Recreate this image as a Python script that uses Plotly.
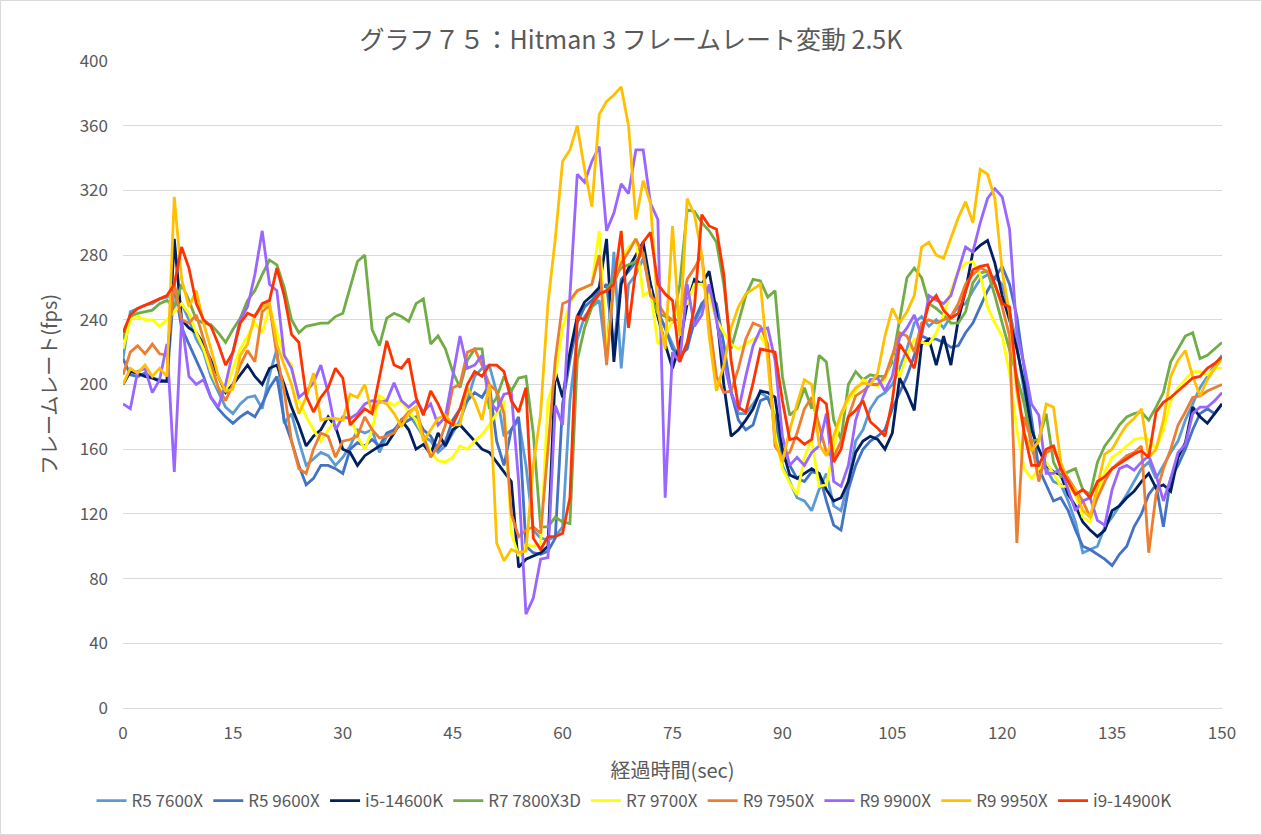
import plotly.graph_objects as go

t = list(range(0, 151))

r5_7600x = [216, 245, 247, 249, 250, 253, 254, 256, 250, 240, 228, 220, 205, 195, 186, 182,
 188, 192, 193, 185, 206, 222, 176, 182, 165, 150, 154, 158, 156, 150, 155,
 162, 172, 170, 172, 158, 168, 172, 178, 182, 175, 168, 165, 158, 162, 170,
 178, 190, 205, 210, 212, 195, 168, 172, 178, 150, 110, 105, 104, 106, 112,
 190, 228, 242, 248, 252, 215, 282, 210, 262, 268, 278, 260, 245, 235, 225,
 215, 225, 238, 248, 258, 240, 215, 195, 182, 182, 188, 195, 192, 180, 150,
 140, 130, 128, 122, 135, 145, 125, 122, 140, 165, 172, 185, 192, 195, 200,
 210, 222, 238, 242, 236, 240, 235, 242, 248, 250, 258, 265, 268, 266, 262,
 245, 225, 195, 160, 150, 148, 140, 138, 128, 115, 96, 98, 100, 112, 118,
 125, 132, 140, 148, 152, 142, 150, 158, 165, 178, 188, 198, 205, 212, 218]

r5_9600x = [216, 206, 205, 207, 204, 203, 202, 262, 235, 225, 215, 205, 192, 185, 180, 176,
 180, 183, 180, 188, 198, 205, 178, 165, 150, 138, 142, 150, 150, 148, 145,
 160, 164, 162, 166, 162, 170, 172, 175, 178, 180, 172, 168, 160, 165, 178,
 185, 190, 195, 192, 200, 165, 150, 172, 180, 100, 96, 95, 97, 105, 188,
 215, 238, 248, 252, 258, 262, 222, 265, 270, 276, 282, 262, 245, 235, 222,
 218, 222, 240, 250, 255, 250, 225, 195, 178, 172, 175, 190, 192, 180, 155,
 150, 142, 140, 146, 145, 128, 113, 110, 135, 150, 160, 165, 168, 172, 185,
 195, 205, 218, 230, 228, 228, 226, 223, 224, 232, 238, 248, 258, 266, 273,
 262, 242, 210, 180, 148, 138, 128, 130, 122, 110, 100, 98, 95, 92, 88,
 95, 100, 112, 120, 132, 138, 112, 142, 150, 160, 172, 182, 185, 182, 188]

i5_14600k = [200, 208, 207, 205, 204, 202, 202, 290, 240, 235, 232, 225, 215, 205, 195, 200,
 206, 212, 205, 200, 210, 212, 200, 186, 175, 162, 168, 172, 180, 174, 160,
 158, 150, 156, 159, 162, 163, 170, 178, 172, 160, 163, 157, 170, 162, 172,
 175, 170, 165, 160, 158, 152, 146, 140, 87, 92, 94, 96, 100, 208, 192,
 220, 242, 251, 255, 260, 290, 214, 262, 272, 280, 288, 262, 242, 225, 210,
 225, 250, 265, 262, 270, 245, 200, 168, 172, 178, 185, 196, 195, 192, 160,
 144, 142, 145, 148, 145, 135, 128, 130, 140, 158, 165, 168, 166, 160, 170,
 204, 195, 184, 225, 228, 212, 230, 212, 240, 258, 282, 286, 289, 275, 255,
 240, 222, 200, 172, 160, 150, 146, 144, 132, 125, 115, 110, 106, 110, 122,
 125, 130, 134, 140, 145, 136, 138, 134, 155, 164, 186, 180, 176, 182, 188]

r7_7800x3d = [228, 242, 244, 245, 246, 250, 252, 248, 262, 252, 240, 238, 237, 232, 226, 234,
 241, 252, 258, 268, 277, 274, 260, 240, 232, 236, 237, 238, 238, 242, 244,
 260, 276, 280, 234, 224, 241, 244, 242, 239, 250, 253, 225, 230, 222, 208,
 198, 215, 222, 222, 185, 192, 205, 196, 204, 205, 170, 112, 112, 118, 115,
 114, 215, 235, 248, 256, 258, 266, 272, 274, 276, 282, 255, 244, 242, 238,
 262, 308, 307, 300, 295, 288, 262, 222, 238, 255, 265, 264, 254, 258, 205,
 181, 185, 198, 185, 218, 214, 178, 166, 200, 208, 203, 206, 205, 205, 214,
 240, 266, 272, 266, 250, 247, 243, 238, 238, 245, 263, 269, 270, 255, 238,
 222, 205, 188, 165, 166, 182, 152, 143, 146, 148, 135, 132, 152, 162, 168,
 175, 180, 182, 183, 178, 186, 195, 214, 222, 230, 232, 216, 218, 222, 226]

r7_9700x = [222, 240, 242, 240, 240, 236, 240, 245, 250, 244, 232, 222, 208, 198, 196, 210,
 222, 230, 238, 232, 248, 232, 218, 212, 190, 180, 172, 165, 172, 178, 178,
 180, 168, 160, 172, 193, 190, 187, 190, 183, 178, 168, 158, 153, 152, 155,
 162, 160, 165, 169, 175, 182, 190, 108, 94, 101, 100, 102, 190, 205, 235,
 250, 258, 260, 262, 295, 220, 262, 278, 285, 290, 255, 258, 225, 230, 240,
 248, 250, 262, 262, 255, 240, 232, 225, 222, 225, 228, 230, 222, 170, 148,
 139, 132, 155, 166, 137, 138, 160, 181, 190, 196, 203, 201, 199, 203, 219,
 205, 218, 228, 226, 225, 232, 243, 258, 270, 275, 276, 268, 248, 238, 230,
 207, 172, 148, 142, 148, 152, 145, 137, 137, 132, 118, 115, 132, 146, 155,
 158, 162, 166, 167, 166, 160, 172, 190, 198, 203, 208, 208, 206, 210, 210]

r9_7950x = [206, 220, 224, 219, 225, 219, 218, 262, 240, 238, 243, 228, 214, 198, 190, 200,
 212, 221, 214, 245, 249, 218, 196, 165, 148, 145, 160, 170, 168, 155, 165,
 166, 168, 180, 172, 167, 168, 170, 178, 183, 186, 168, 155, 162, 175, 198,
 200, 220, 222, 212, 200, 196, 182, 120, 106, 110, 112, 108, 160, 215, 250,
 252, 258, 260, 262, 280, 212, 262, 275, 282, 290, 280, 255, 250, 243, 240,
 240, 265, 272, 280, 240, 205, 195, 196, 210, 228, 238, 236, 225, 162, 155,
 158, 170, 185, 192, 175, 158, 155, 165, 180, 193, 196, 200, 200, 205, 218,
 232, 230, 220, 238, 240, 238, 240, 242, 250, 262, 268, 272, 270, 262, 248,
 230, 102, 180, 165, 140, 158, 160, 150, 142, 135, 128, 118, 130, 140, 148,
 152, 156, 158, 162, 96, 132, 148, 160, 175, 183, 192, 193, 196, 198, 200]

r9_9900x = [188, 185, 208, 210, 195, 203, 225, 146, 240, 205, 200, 203, 192, 186, 200, 220,
 240, 248, 268, 295, 262, 258, 218, 210, 192, 196, 201, 212, 195, 172, 180,
 179, 182, 188, 190, 189, 190, 201, 190, 186, 190, 183, 188, 175, 180, 205,
 230, 210, 212, 218, 190, 184, 194, 195, 140, 58, 68, 92, 93, 187, 175,
 255, 330, 325, 338, 347, 295, 306, 324, 318, 345, 345, 312, 302, 130, 220,
 214, 262, 236, 243, 262, 240, 214, 195, 184, 205, 224, 234, 235, 215, 168,
 150, 155, 150, 158, 162, 182, 140, 137, 150, 178, 192, 203, 204, 196, 205,
 229, 235, 243, 230, 255, 252, 250, 255, 270, 285, 282, 300, 315, 321, 316,
 296, 232, 212, 188, 181, 145, 145, 148, 135, 122, 128, 130, 116, 113, 135,
 148, 150, 147, 152, 156, 144, 128, 142, 158, 163, 182, 186, 186, 190, 195]

r9_9950x = [200, 210, 207, 212, 205, 210, 205, 316, 265, 248, 258, 238, 222, 205, 196, 197,
 218, 225, 243, 248, 250, 225, 212, 200, 182, 192, 207, 178, 179, 179, 178,
 194, 192, 200, 182, 190, 188, 182, 174, 182, 186, 165, 172, 179, 181, 175,
 175, 198, 190, 178, 200, 102, 91, 98, 96, 97, 150, 182, 250, 290, 338,
 345, 360, 333, 310, 367, 375, 379, 384, 360, 302, 326, 312, 246, 222, 298,
 230, 315, 305, 280, 230, 196, 212, 235, 248, 256, 259, 262, 215, 165, 152,
 172, 188, 203, 200, 163, 156, 168, 182, 192, 198, 201, 200, 207, 230, 247,
 238, 245, 255, 285, 288, 280, 278, 290, 303, 313, 300, 333, 330, 315, 270,
 244, 195, 170, 159, 165, 188, 186, 152, 140, 135, 122, 118, 137, 157, 160,
 168, 175, 179, 185, 155, 160, 178, 205, 215, 221, 205, 193, 203, 210, 216]

i9_14900k = [232, 243, 247, 249, 251, 253, 255, 262, 285, 272, 250, 240, 236, 225, 212, 220,
 238, 244, 242, 250, 252, 272, 255, 231, 226, 193, 183, 192, 198, 210, 204,
 175, 180, 185, 182, 205, 227, 212, 210, 216, 192, 181, 196, 188, 178, 175,
 185, 200, 208, 205, 212, 212, 208, 190, 183, 198, 105, 98, 106, 106, 108,
 130, 242, 240, 250, 256, 258, 262, 295, 235, 272, 288, 294, 262, 256, 252,
 214, 226, 248, 305, 298, 296, 268, 215, 186, 183, 201, 222, 221, 220, 190,
 166, 167, 163, 166, 192, 188, 152, 160, 180, 184, 190, 177, 173, 168, 190,
 225, 218, 210, 233, 250, 255, 246, 241, 244, 258, 271, 273, 274, 262, 250,
 248, 200, 170, 150, 150, 160, 162, 148, 140, 132, 135, 130, 140, 143, 148,
 151, 154, 157, 159, 155, 183, 189, 192, 196, 200, 204, 205, 210, 213, 217]

names = ["R5 7600X", "R5 9600X", "i5-14600K", "R7 7800X3D", "R7 9700X",
         "R9 7950X", "R9 9900X", "R9 9950X", "i9-14900K"]
values = [r5_7600x, r5_9600x, i5_14600k, r7_7800x3d, r7_9700x,
          r9_7950x, r9_9900x, r9_9950x, i9_14900k]
colors = ["#5B9BD5", "#4472C4", "#002060", "#70AD47", "#FFFF00",
          "#ED7D31", "#9966FF", "#FFC000", "#FF3300"]

x_ticks = [0, 15, 30, 45, 60, 75, 90, 105, 120, 135, 150]
y_ticks = [0, 40, 80, 120, 160, 200, 240, 280, 320, 360, 400]

FONT = "Noto Sans CJK JP, Noto Sans, sans-serif"
GREY = "#595959"

fig = go.Figure()
for n, v, c in zip(names, values, colors):
    fig.add_trace(go.Scatter(x=t, y=v, mode="lines", name=n,
                             line=dict(color=c, width=2.8)))

W, H = 1262, 835
L, R, T, B = 123, 40, 61, 127
pw, ph = W - L - R, H - T - B

fig.update_layout(
    width=W, height=H,
    margin=dict(l=L, r=R, t=T, b=B),
    paper_bgcolor="white", plot_bgcolor="white",
    font=dict(family=FONT, color=GREY),
    title=dict(text="グラフ７５：Hitman 3 フレームレート変動 2.5K",
               x=0.5, xref="container", y=1 - 40 / H, yref="container",
               xanchor="center", yanchor="middle",
               font=dict(size=25, color=GREY, family=FONT)),
    xaxis=dict(range=[0, 150], tickvals=x_ticks, showgrid=False,
               showline=True, linecolor="#D9D9D9", linewidth=1,
               zeroline=False, ticks="", ticklabelstandoff=10,
               tickfont=dict(size=17, color=GREY),
               title=dict(text="経過時間(sec)", font=dict(size=20, color=GREY),
                          standoff=20)),
    yaxis=dict(range=[0, 400], tickvals=y_ticks, showgrid=True,
               gridcolor="#D9D9D9", gridwidth=1, zeroline=False,
               showline=False, ticks="", ticklabelstandoff=14,
               tickfont=dict(size=17, color=GREY),
               title=dict(text="フレームレート(fps)", font=dict(size=20, color=GREY),
                          standoff=16)),
    legend=dict(orientation="h", x=(634 - L) / pw, xanchor="center",
                y=(708 - 801) / ph, yanchor="middle",
                font=dict(size=17, color=GREY), itemwidth=30,
                bgcolor="rgba(0,0,0,0)"),
    showlegend=True,
)

fig.add_shape(type="rect", xref="paper", yref="paper",
              x0=-(L - 0.5) / pw, x1=(W - 0.5 - L) / pw,
              y0=(708 - (H - 0.5)) / ph, y1=(708 - 0.5) / ph,
              line=dict(color="#D9D9D9", width=1), layer="below")

fig.write_html("out.html", config={"displayModeBar": False},
               post_script="document.body.style.margin='0';document.body.style.overflow='hidden';")
